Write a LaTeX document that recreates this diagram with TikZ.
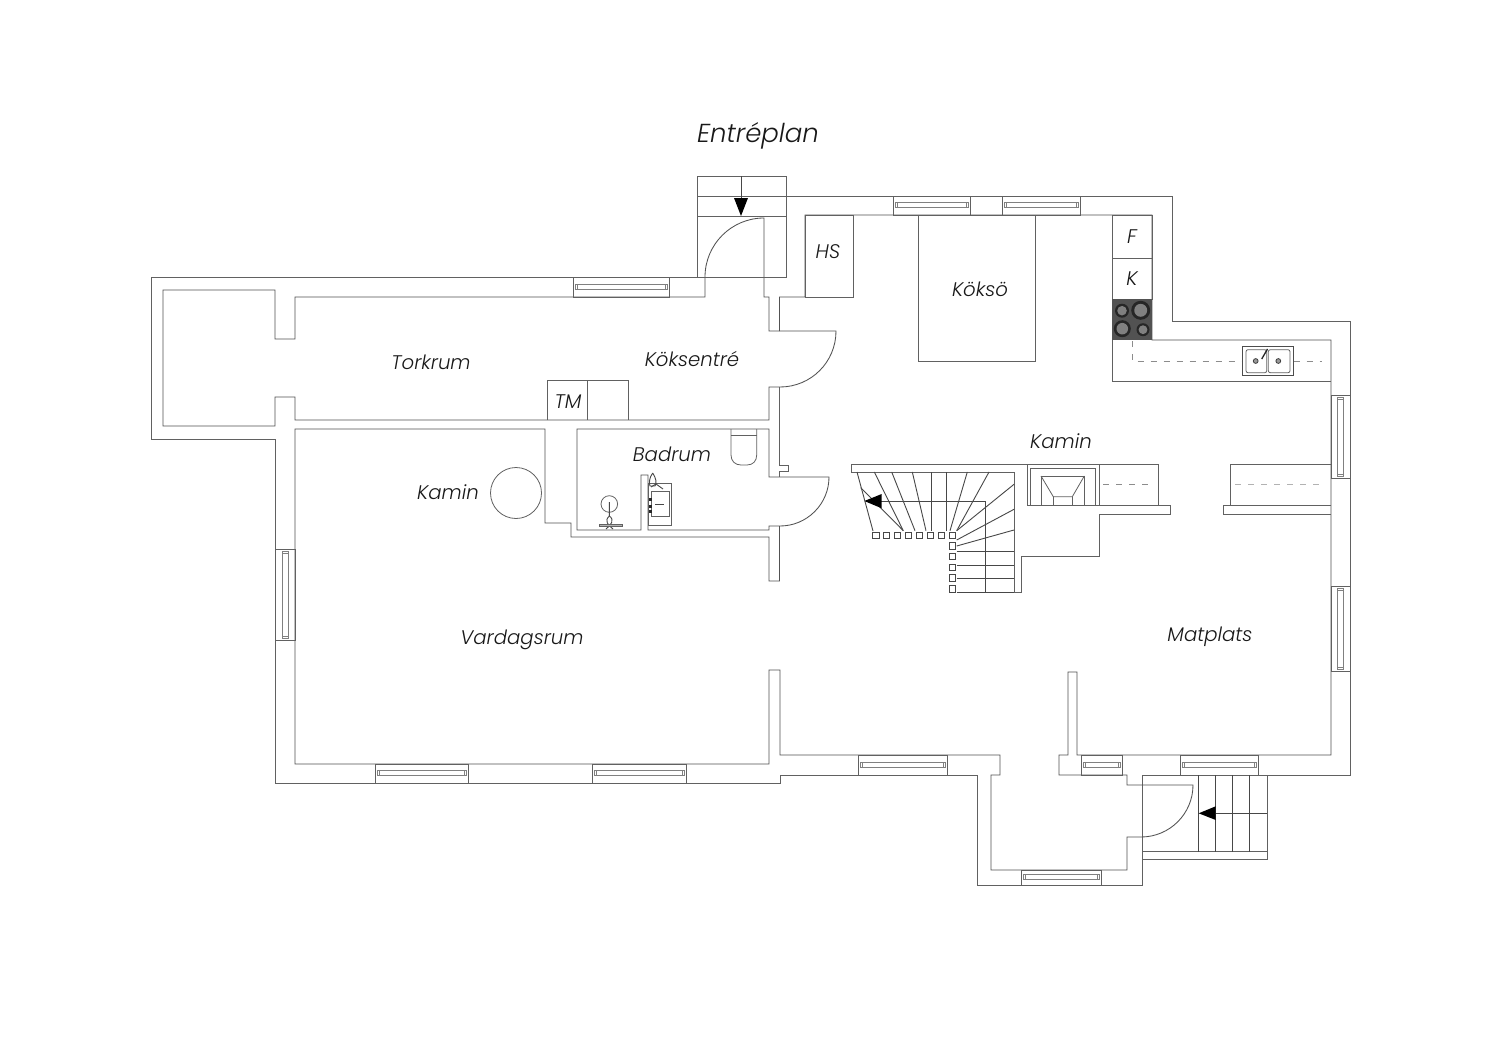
\documentclass[tikz,border=0pt]{standalone}
\usepackage{fontspec}
\setmainfont{Poppins Light}[ItalicFont={Poppins Light Italic}]
\tikzset{
  wall/.style={draw=black!68,line width=.85pt,line join=miter},
  shell/.style={draw=black!62,line width=.7pt,line join=miter},
  thin line/.style={draw=black!62,line width=.8pt},
  tread/.style={draw=black!72,line width=.9pt},
  dashline/.style={draw=black!45,line width=.9pt,dash pattern=on 6pt off 7pt},
  lbl/.style={inner sep=0pt,font=\itshape\fontsize{19.7}{24}\selectfont,text=black!90},
  ttl/.style={inner sep=0pt,font=\itshape\fontsize{26}{30}\selectfont,text=black!90},
  tip/.style={fill=black,draw=none},
  newel/.style={draw=black!72,line width=.9pt,fill=white}
}
\newcommand{\hwin}[4]{%
  \draw[thin line] (#1,#3) rectangle (#2,#4);
  \draw[thin line,line width=.5pt,draw=black!50] ({#1+2},{(#3+#4)/2-3}) rectangle ({#2-2},{(#3+#4)/2+2});
  \draw[thin line,line width=.5pt,draw=black!50] ({#1+4},{(#3+#4)/2-3}) -- ({#1+4},{(#3+#4)/2+2}) ({#2-4},{(#3+#4)/2-3}) -- ({#2-4},{(#3+#4)/2+2});
}
\newcommand{\vwin}[4]{%
  \draw[thin line] (#1,#3) rectangle (#2,#4);
  \draw[thin line,line width=.5pt,draw=black!50] ({(#1+#2)/2-3},{#3+2}) rectangle ({(#1+#2)/2+3},{#4-2});
  \draw[thin line,line width=.5pt,draw=black!50] ({(#1+#2)/2-3},{#3+4}) -- ({(#1+#2)/2+3},{#3+4}) ({(#1+#2)/2-3},{#4-4}) -- ({(#1+#2)/2+3},{#4-4});
}
\newcommand{\nwl}[2]{\draw[newel] ({#1-3.2},{#2-3.2}) rectangle ({#1+3.2},{#2+3.2});}
\begin{document}
\begin{tikzpicture}[x=1pt,y=-1pt]
\useasboundingbox[fill=white] (0,0) rectangle (1500,1060);
% outer shell
\draw[shell] (697,277) -- (151,277) -- (151,439) -- (275,439) -- (275,783) -- (780,783) -- (780,775) -- (977,775) -- (977,885) -- (1142,885) -- (1142,775) -- (1350,775) -- (1350,321) -- (1172,321) -- (1172,196) -- (697,196);
% Torkrum and Koksentre inner outline
\draw[wall] (163,290) -- (275,290) -- (275,339) -- (295,339) -- (295,297) -- (705,297) -- (705,277)
  .. controls (705,244.4) and (731.4,218) .. (764,218) -- (764,297) -- (769,297) -- (769,331) -- (836,331)
  .. controls (836,362) and (811,387) .. (780,387) -- (769,387) -- (769,420) -- (295,420) -- (295,397) -- (275,397) -- (275,426) -- (163,426) -- cycle;
% main inner outline
\draw[wall] (779.5,331) -- (779.5,297) -- (805,297) -- (805,215) -- (1152,215) -- (1152,340) -- (1331,340) -- (1331,755) -- (1077,755) -- (1077,672) -- (1068,672) -- (1068,755) -- (1059,755) -- (1059,775) -- (1127,775) -- (1127,785) -- (1193,785)
  .. controls (1193,813.7) and (1169.7,837) .. (1141,837) -- (1127,837) -- (1127,870) -- (991,870) -- (991,775) -- (1000,775) -- (1000,755) -- (780,755) -- (780,670) -- (769,670) -- (769,764) -- (295,764) -- (295,429) -- (545,429) -- (545,523) -- (571,523) -- (571,537) -- (769,537) -- (769,581) -- (779.5,581) -- (779.5,526) -- (769,526) -- (769,530) -- (648,530) -- (648,475) -- (641,475) -- (641,530) -- (577,530) -- (577,429) -- (769,429) -- (769,477) -- (829,477)
  .. controls (829,504) and (807,526) .. (780,526);
\draw[shell] (779.5,387) -- (779.5,465) -- (788,465) -- (788,471) -- (779.5,471) -- (779.5,477);
% entrance steps top
\draw[thin line] (697,196) -- (697,176) -- (786,176) -- (786,196) (786,196) -- (786,277) -- (697,277) -- (697,196);
\draw[thin line] (697,216) -- (786,216);
\draw[tread] (741,176) -- (741,200);
\fill[tip] (741,216) -- (734,198) -- (748,198) -- cycle;
% windows
\hwin{573}{669}{277}{297}
\hwin{893}{970}{196}{215}
\hwin{1002}{1080}{196}{215}
\hwin{375}{468}{764}{783}
\hwin{592}{686}{764}{783}
\hwin{858}{947}{755}{775}
\hwin{1081}{1122}{755}{775}
\hwin{1180}{1258}{755}{775}
\hwin{1021}{1101}{870}{885}
\vwin{275}{295}{549}{640}
\vwin{1331}{1350}{395}{478}
\vwin{1331}{1350}{586}{671}
% fixtures
\draw[thin line] (805,215) rectangle (853,297);
\draw[thin line] (918.5,215) rectangle (1035.5,361);
\draw[thin line] (1112,215) rectangle (1152,299);
\draw[thin line] (1112,258.5) -- (1152,258.5);
\draw[thin line] (1112,340) -- (1112,381) -- (1331,381);
\draw[thin line] (547.5,420) -- (547.5,380) -- (628,380) -- (628,420) (587.5,380) -- (587.5,420);
% cooktop
\fill[black!68] (1112,299) rectangle (1152,340);
\foreach \cx/\cy/\r in {1122/310.7/7,1140.7/310.3/9.5,1122.3/328.7/8.5,1143/329.7/6.5}{
  \fill[black!85] (\cx,\cy) circle[radius=\r];
  \fill[black!50] (\cx,\cy) circle[radius=\r*0.68];
}
% sink
\draw[dashline] (1132,341) -- (1132,361.5) -- (1322,361.5);
\draw[draw=black!70,fill=white,line width=1.2pt] (1242.7,346.7) rectangle (1293.3,375.3);
\draw[thin line,rounded corners=2pt] (1246,349.7) rectangle (1266.7,372.7);
\draw[thin line,rounded corners=2pt] (1268.3,349.7) rectangle (1290,372.7);
\draw[black!75,fill=black!40,line width=.8pt] (1255.7,361) circle[radius=2.4];
\draw[black!75,fill=black!40,line width=.8pt] (1278.3,361) circle[radius=2.4];
\draw[black!85,line width=1.3pt] (1261.7,359) -- (1267.5,349);
% fireplace kitchen side
\draw[shell] (851,464) -- (1158,464) -- (1158,505);
\draw[shell] (851,464) -- (851,472) -- (1014,472) -- (1014,592) -- (1021,592) -- (1021,556) -- (1099,556) -- (1099,514) -- (1170,514) -- (1170,505) -- (1027,505) -- (1027,464);
\draw[shell] (1099,464) -- (1099,505);
\draw[thin line] (1030.7,505) -- (1030.7,468) -- (1095,468) -- (1095,505);
\draw[thin line] (1041,505) -- (1041,476) -- (1084.3,476) -- (1084.3,505);
\draw[thin line] (1041,476) -- (1053.3,496.7) -- (1072.3,496.7) -- (1084.3,476);
\draw[thin line] (1053.3,496.7) -- (1053.3,505) (1072.3,496.7) -- (1072.3,505);
\draw[dashline] (1103,484.3) -- (1153,484.3);
% right cabinet
\draw[shell] (1331,464) -- (1230,464) -- (1230,505);
\draw[shell] (1331,505) -- (1223.3,505) -- (1223.3,514) -- (1331,514);
\draw[dashline,draw=black!30] (1235,484.3) -- (1324,484.3);
% stair
\foreach \a/\b/\c/\d in {857/472/873/531,874.3/472/903.3/530.7,891.7/472/915/530.7,912.3/472/926/530.7,931.3/472/931.3/530.7,946/472/946/530.7,967.3/472/950/530.7,989/472/956.7/530.7,860.7/487.7/903.3/530.7,956.7/530.7/1014/484.3,956.7/540/1014/509.3,956.7/546/1014/530,956.7/551.7/1014/551.7,956.7/565/1014/565,956.7/578.3/1014/578.3,956.7/592/1014/592,881/501/985.3/501,985.3/501/985.3/592}{
  \draw[tread] (\a,\b) -- (\c,\d);
}
\fill[tip] (864.3,501) -- (881.7,494) -- (881.7,508.3) -- cycle;
\foreach \x in {876,886.7,897.3,908.3,919.3,930.3,941.3,952.7}{\nwl{\x}{535.3}}
\foreach \y in {546,556.7,567.3,578,589}{\nwl{952.7}{\y}}
% outdoor steps
\draw[thin line] (1142,851.7) -- (1267,851.7);
\draw[thin line] (1267,775) -- (1267,859) -- (1142,859);
\foreach \x in {1198.7,1215.7,1232.7,1249.7}{\draw[tread] (\x,775) -- (\x,851.7);}
\draw[tread] (1215,813.3) -- (1267,813.3);
\fill[tip] (1198.7,813.3) -- (1215.7,806.3) -- (1215.7,820) -- cycle;
% bathroom
\draw[thin line] (731,429) -- (731,455) .. controls (731,461) and (735,465) .. (741,465) -- (747,465) .. controls (753,465) and (756.7,461) .. (756.7,455) -- (756.7,429);
\draw[thin line] (731,435) -- (756.7,435);
\draw[thin line] (648.3,483.3) rectangle (671.7,525);
\draw[thin line] (651.7,491) rectangle (669.3,516.7);
\draw[tread] (652.7,473) .. controls (649,478) and (649,483) .. (650,486) -- (655,486) .. controls (657,483) and (656,478) .. (652.7,473);
\draw[tread] (651,487) -- (656,484) -- (663,489);
\draw[tread] (655,504) -- (664,504);
\foreach \y in {498,505,510}{\fill[black!85] (648.5,\y) rectangle (651.5,{\y+3});}
\draw[thin line] (609.3,504) circle[radius=8.3];
\draw[tread] (609.3,502) -- (609.3,516) .. controls (615,520) and (611,525) .. (606,529);
\draw[tread] (609.3,516) .. controls (604,521) and (608,525) .. (613,529);
\draw[thin line,fill=black!30] (599,524.5) rectangle (622,526.5);
% fireplace living
\draw[thin line] (516,493) circle[radius=25.5];
% labels
\node[ttl] (title) at (758,136) {Entréplan};
\node[lbl] (torkrum) at (431,362) {Torkrum};
\node[lbl] (koksentre) at (692,359) {Köksentré};
\node[lbl] (tm) at (568,402) {TM};
\node[lbl] (badrum) at (672,454) {Badrum};
\node[lbl] (kamina) at (448,492) {Kamin};
\node[lbl] (hs) at (828,252) {HS};
\node[lbl] (kokso) at (980,289) {Köksö};
\node[lbl] (f) at (1132,237) {F};
\node[lbl] (k) at (1132,279) {K};
\node[lbl] (kaminb) at (1061,441) {Kamin};
\node[lbl] (vardagsrum) at (522,640) {Vardagsrum};
\node[lbl] (matplats) at (1210,637) {Matplats};
\end{tikzpicture}
\end{document}
